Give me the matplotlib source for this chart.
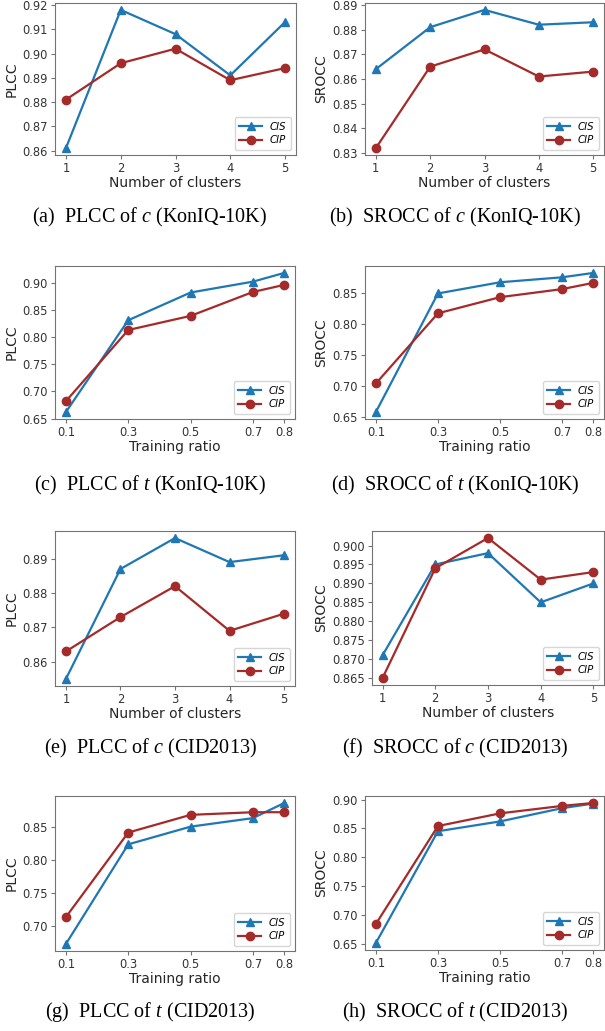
import matplotlib
matplotlib.use('Agg')
import matplotlib.pyplot as plt
from matplotlib.ticker import MultipleLocator, FormatStrFormatter

# x values
clusters = [1, 2, 3, 4, 5]
ratios = [0.1, 0.3, 0.5, 0.7, 0.8]
ratio_labels = ['0.1', '0.3', '0.5', '0.7', '0.8']

# KonIQ-10K, number of clusters c
plcc_c_kon_cis = [0.861, 0.918, 0.908, 0.891, 0.913]
plcc_c_kon_cip = [0.881, 0.896, 0.902, 0.889, 0.894]
srocc_c_kon_cis = [0.864, 0.881, 0.888, 0.882, 0.883]
srocc_c_kon_cip = [0.832, 0.865, 0.872, 0.861, 0.863]

# KonIQ-10K, training ratio t
plcc_t_kon_cis = [0.662, 0.831, 0.882, 0.902, 0.918]
plcc_t_kon_cip = [0.682, 0.813, 0.839, 0.883, 0.896]
srocc_t_kon_cis = [0.658, 0.849, 0.867, 0.875, 0.882]
srocc_t_kon_cip = [0.704, 0.817, 0.843, 0.856, 0.866]

# CID2013, number of clusters c
plcc_c_cid_cis = [0.855, 0.887, 0.896, 0.889, 0.891]
plcc_c_cid_cip = [0.863, 0.873, 0.882, 0.869, 0.874]
srocc_c_cid_cis = [0.871, 0.895, 0.898, 0.885, 0.890]
srocc_c_cid_cip = [0.865, 0.894, 0.902, 0.891, 0.893]

# CID2013, training ratio t
plcc_t_cid_cis = [0.672, 0.824, 0.851, 0.864, 0.887]
plcc_t_cid_cip = [0.713, 0.842, 0.869, 0.873, 0.873]
srocc_t_cid_cis = [0.651, 0.845, 0.862, 0.885, 0.893]
srocc_t_cid_cip = [0.684, 0.854, 0.876, 0.889, 0.894]

W, H = 605, 1031
CIS_COLOR = '#1f77b4'
CIP_COLOR = '#a52a2a'


def px_axes(fig, left, top, right, bottom):
    """Add axes from pixel box (origin top-left)."""
    return fig.add_axes([left / W, 1 - bottom / H, (right - left) / W, (bottom - top) / H])


def draw_panel(ax, x, cis, cip, ylabel, xlabel, xticklabels, ystep, yfmt):
    ax.plot(x, cis, '-^', color=CIS_COLOR, lw=1.6, ms=6, label='CIS')
    ax.plot(x, cip, '-o', color=CIP_COLOR, lw=1.6, ms=6, label='CIP')
    ax.set_xticks(x)
    if xticklabels is not None:
        ax.set_xticklabels(xticklabels)
    ax.yaxis.set_major_locator(MultipleLocator(ystep))
    ax.yaxis.set_major_formatter(FormatStrFormatter(yfmt))
    ax.set_xlabel(xlabel, fontsize=10, color='0.15', labelpad=1)
    ax.set_ylabel(ylabel, fontsize=10, color='0.15', labelpad=3)
    ax.tick_params(labelsize=8.3, colors='0.45', labelcolor='0.2', length=3, pad=2)
    for s in ax.spines.values():
        s.set_color('0.45')
    leg = ax.legend(loc='lower right', prop={'style': 'italic', 'size': 7.3},
                    handlelength=2.2, borderpad=0.45, labelspacing=0.35)
    leg.get_frame().set_edgecolor('0.8')


fig = plt.figure(figsize=(W / 100, H / 100), dpi=100)

panels = [
    ((55, 3, 296, 155), clusters, plcc_c_kon_cis, plcc_c_kon_cip, 'PLCC', 'Number of clusters', None, 0.01, '%.2f'),
    ((365, 3, 604, 155), clusters, srocc_c_kon_cis, srocc_c_kon_cip, 'SROCC', 'Number of clusters', None, 0.01, '%.2f'),
    ((55, 266, 295, 419), ratios, plcc_t_kon_cis, plcc_t_kon_cip, 'PLCC', 'Training ratio', ratio_labels, 0.05, '%.2f'),
    ((365, 266, 604, 419), ratios, srocc_t_kon_cis, srocc_t_kon_cip, 'SROCC', 'Training ratio', ratio_labels, 0.05, '%.2f'),
    ((55, 531, 295, 686), clusters, plcc_c_cid_cis, plcc_c_cid_cip, 'PLCC', 'Number of clusters', None, 0.01, '%.2f'),
    ((372, 531, 604, 685), clusters, srocc_c_cid_cis, srocc_c_cid_cip, 'SROCC', 'Number of clusters', None, 0.005, '%.3f'),
    ((55, 796, 295, 951), ratios, plcc_t_cid_cis, plcc_t_cid_cip, 'PLCC', 'Training ratio', ratio_labels, 0.05, '%.2f'),
    ((365, 796, 604, 950), ratios, srocc_t_cid_cis, srocc_t_cid_cip, 'SROCC', 'Training ratio', ratio_labels, 0.05, '%.2f'),
]

for box, x, cis, cip, ylab, xlab, xtl, ystep, yfmt in panels:
    ax = px_axes(fig, *box)
    draw_panel(ax, x, cis, cip, ylab, xlab, xtl, ystep, yfmt)

# Captions below each row
plt.rcParams['mathtext.fontset'] = 'custom'
plt.rcParams['mathtext.it'] = 'Liberation Serif:italic'
plt.rcParams['mathtext.rm'] = 'Liberation Serif'
captions = [
    (150, 217, '(a)  PLCC of $c$ (KonIQ-10K)'),
    (455, 217, '(b)  SROCC of $c$ (KonIQ-10K)'),
    (150, 485, '(c)  PLCC of $t$ (KonIQ-10K)'),
    (455, 485, '(d)  SROCC of $t$ (KonIQ-10K)'),
    (150, 748, '(e)  PLCC of $c$ (CID2013)'),
    (455, 748, '(f)  SROCC of $c$ (CID2013)'),
    (150, 1012, '(g)  PLCC of $t$ (CID2013)'),
    (455, 1012, '(h)  SROCC of $t$ (CID2013)'),
]
for cx, cy, txt in captions:
    fig.text(cx / W, 1 - cy / H, txt, ha='center', va='center',
             family='Liberation Serif', fontsize=14.5)

fig.savefig('out.png', dpi=100)
